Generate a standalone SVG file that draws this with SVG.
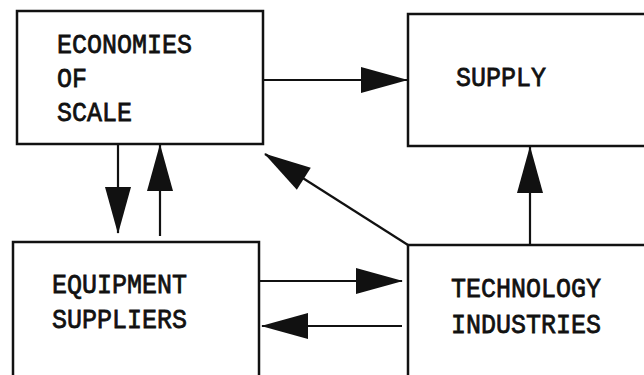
<svg xmlns="http://www.w3.org/2000/svg" width="644" height="375" viewBox="0 0 644 375">
<style>
.box{fill:#fff;stroke:#111;stroke-width:2.5}
.lbl{font-family:"Liberation Mono","DejaVu Sans Mono",monospace;font-size:25px;fill:#111;stroke:#111;stroke-width:0.7}
.con{stroke:#111;stroke-width:2.2;fill:none;marker-end:url(#ah)}
</style>
<defs>
<marker id="ah" markerUnits="userSpaceOnUse" markerWidth="47" markerHeight="26" refX="46" refY="13" orient="auto" overflow="visible">
<path d="M0,0 L47,13 L0,26 z" fill="#111"/>
</marker>
</defs>
<rect width="644" height="375" fill="#fff"/>
<g id="economies">
<rect class="box" x="17" y="11" width="246" height="133"/>
<text class="lbl" transform="translate(57,53) scale(1,1.14)">ECONOMIES</text>
<text class="lbl" transform="translate(57,87) scale(1,1.14)">OF</text>
<text class="lbl" transform="translate(57,121) scale(1,1.14)">SCALE</text>
</g>
<g id="supply">
<rect class="box" x="408" y="14" width="250" height="132"/>
<text class="lbl" transform="translate(456,86) scale(1,1.14)">SUPPLY</text>
</g>
<g id="equipment">
<rect class="box" x="13" y="242" width="246" height="150"/>
<text class="lbl" transform="translate(52,293) scale(1,1.14)">EQUIPMENT</text>
<text class="lbl" transform="translate(52,328) scale(1,1.14)">SUPPLIERS</text>
</g>
<g id="technology">
<rect class="box" x="408" y="245" width="250" height="150"/>
<text class="lbl" transform="translate(451,297) scale(1,1.14)">TECHNOLOGY</text>
<text class="lbl" transform="translate(451,333) scale(1,1.14)">INDUSTRIES</text>
</g>
<g id="connectors">
<line class="con" x1="264" y1="80" x2="407" y2="80"/>
<line class="con" x1="118" y1="144" x2="118" y2="233"/>
<line class="con" x1="160" y1="236" x2="160" y2="145"/>
<line class="con" x1="408" y1="245" x2="265" y2="154"/>
<line class="con" x1="530" y1="244" x2="530" y2="147"/>
<line class="con" x1="259" y1="281" x2="402" y2="281"/>
<line class="con" x1="402" y1="326" x2="262" y2="326"/>
</g>
</svg>
